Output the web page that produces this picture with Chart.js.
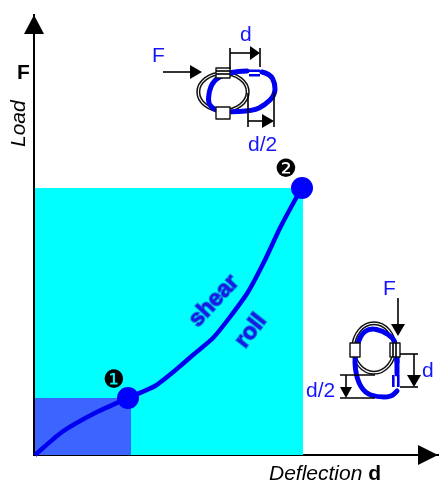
<!DOCTYPE html>
<html><head><meta charset="utf-8">
<style>html,body{margin:0;padding:0;background:#fff}canvas{display:block}</style>
<script src="https://cdn.jsdelivr.net/npm/chart.js@4"></script>
</head><body><canvas id="c" width="442" height="481"></canvas>
<script>
const curveDeflection=[1,28,61,94,121,144,159,179,196,214,231,246,261,268];
const curveLoad=[0,23,42,57,69,87,100,117,138,163,195,227,255,267];
const markerDeflection=[94,268];
const markerLoad=[57,267];
const markerLabels=['❶','❷'];
const zoneOuterDeflection=[1,269];
const zoneOuterLoad=[267,267];
const zoneInnerDeflection=[1,97];
const zoneInnerLoad=[57,57];

const toXY=(xs,ys)=>xs.map((x,i)=>({x,y:ys[i]}));
const BLUE='#0000f0',TXT='#1414ff';

function arrow(g,x1,y1,x2,y2,len,half,w){
  const a=Math.atan2(y2-y1,x2-x1);
  g.strokeStyle='#000';g.fillStyle='#000';g.lineWidth=w||1.5;
  g.beginPath();g.moveTo(x1,y1);g.lineTo(x2-Math.cos(a)*len*.8,y2-Math.sin(a)*len*.8);g.stroke();
  g.beginPath();g.moveTo(x2,y2);
  g.lineTo(x2-Math.cos(a)*len-Math.sin(a)*half,y2-Math.sin(a)*len+Math.cos(a)*half);
  g.lineTo(x2-Math.cos(a)*len+Math.sin(a)*half,y2-Math.sin(a)*len-Math.cos(a)*half);
  g.closePath();g.fill();
}
function seg(g,a,b,c,d){g.strokeStyle='#000';g.lineWidth=1.6;g.beginPath();g.moveTo(a,b);g.lineTo(c,d);g.stroke();}
function smooth(g,p,w){
  g.strokeStyle=BLUE;g.lineWidth=w;g.lineCap='round';g.lineJoin='round';
  g.beginPath();g.moveTo(p[0][0],p[0][1]);
  for(let i=1;i<p.length-1;i++){
    g.quadraticCurveTo(p[i][0],p[i][1],(p[i][0]+p[i+1][0])/2,(p[i][1]+p[i+1][1])/2);
  }
  const l=p[p.length-1];g.lineTo(l[0],l[1]);g.stroke();g.lineCap='butt';
}
function ring(g,cx,cy,rx,ry){
  g.strokeStyle='#111';g.lineWidth=1.5;
  g.beginPath();g.ellipse(cx,cy,rx,ry,0,0,7);g.stroke();
  g.beginPath();g.ellipse(cx,cy,rx-2.6,ry-2.6,0,0,7);g.stroke();
}
function box(g,x,y,w,h){g.fillStyle='#fff';g.strokeStyle='#111';g.lineWidth=1.4;g.fillRect(x,y,w,h);g.strokeRect(x,y,w,h);}
function txt(g,s,x,y,font,col){g.font=font;g.fillStyle=col;g.textAlign='left';g.textBaseline='alphabetic';g.fillText(s,x,y);}

const annotations={id:'annotations',afterDatasetsDraw(chart){
  const g=chart.ctx,{x:sx,y:sy}=chart.scales;
  g.save();
  const ax=sx.left,ay=sy.bottom;
  g.fillStyle='#000';
  g.beginPath();g.moveTo(ax,sy.top);g.lineTo(ax-10,sy.top+19);g.lineTo(ax+10,sy.top+19);g.closePath();g.fill();
  g.beginPath();g.moveTo(sx.right,ay);g.lineTo(sx.right-20,ay-10);g.lineTo(sx.right-20,ay+10);g.closePath();g.fill();
  const F='"Liberation Sans"';
  txt(g,'F',17,79,'bold 21px '+F,'#000');
  g.save();g.translate(25,147);g.rotate(-Math.PI/2);txt(g,'Load',0,0,'italic 21px '+F,'#000');g.restore();
  txt(g,'Deflection ',269,480,'italic 21px '+F,'#000');
  const w=g.measureText('Deflection ').width;
  txt(g,'d',269+w,480,'bold 21px '+F,'#000');
  g.textAlign='center';g.textBaseline='middle';g.fillStyle='#000';g.font='25px "DejaVu Sans"';
  g.fillText(markerLabels[0],sx.getPixelForValue(markerDeflection[0])-14,sy.getPixelForValue(markerLoad[0])-17);
  g.fillText(markerLabels[1],sx.getPixelForValue(markerDeflection[1])-16,sy.getPixelForValue(markerLoad[1])-18);
  for(const [s,x,y,a] of [['shear',214,301,-47],['roll',251,331,-52]]){
    g.save();g.translate(x,y);g.rotate(a*Math.PI/180);
    g.font='bold 23px '+F;g.textAlign='center';g.textBaseline='middle';
    g.fillStyle='#1a1ae0';g.strokeStyle='rgba(20,20,220,.55)';g.lineWidth=2;
    g.strokeText(s,0,0);g.fillText(s,0,0);g.restore();
  }
  ring(g,223,92,26,20);
  smooth(g,[[221,112],[208,108],[209,90],[215,79],[230,72],[247,71]],5);
  g.fillStyle=BLUE;g.fillRect(249,69.5,11,2.5);g.fillRect(249,74,11,2.5);
  smooth(g,[[262,72],[270,74],[275,83],[275,95],[265,105],[253,111],[225,112]],5);
  box(g,216,68,14,10);
  seg(g,216,71,230,71);seg(g,216,74,230,74);
  box(g,216,107,14,12);
  arrow(g,163,72,202,72,12,7,1.6);
  txt(g,'F',152,62,'21px '+F,TXT);
  seg(g,230,48,230,69);seg(g,260,48,260,67);
  arrow(g,230,53,260,53,10,7,1.6);
  txt(g,'d',240,41,'21px '+F,TXT);
  seg(g,248,93,248,127);seg(g,274,92,274,127);
  arrow(g,248,121,274,121,12,7,1.6);
  txt(g,'d/2',248,151,'21px '+F,TXT);
  ring(g,374,348,22,26);
  smooth(g,[[397,362],[396,345],[393,338],[383,331],[370,328],[360,335],[354,358],[357,380],[365,393],[377,397],[391,397],[397,391]],5);
  g.fillStyle=BLUE;g.fillRect(392,375,2.6,12);g.fillRect(397,375,2.6,12);
  smooth(g,[[397,357],[397,374]],5);
  box(g,350,343,10,14);box(g,390,343,10,14);
  seg(g,393,343,393,357);seg(g,396,343,396,357);
  arrow(g,398,298,398,336,12,7,1.6);
  txt(g,'F',383,295,'21px '+F,TXT);
  seg(g,400,354,418,354);seg(g,400,387,418,387);
  arrow(g,414,354,414,387,12,7,1.6);
  txt(g,'d',422,377,'21px '+F,TXT);
  seg(g,340,375,375,375);seg(g,340,398,375,398);
  arrow(g,346,375,346,398,11,6,1.6);
  txt(g,'d/2',306,397,'21px '+F,TXT);
  g.restore();
}};

new Chart(document.getElementById('c'),{
  type:'scatter',
  data:{datasets:[
    {label:'Markers',data:toXY(markerDeflection,markerLoad),pointRadius:11,pointBackgroundColor:'#0000ff',pointBorderWidth:0,showLine:false,order:1,clip:false},
    {label:'Load curve',data:toXY(curveDeflection,curveLoad),showLine:true,borderColor:BLUE,borderWidth:4.5,pointRadius:0,tension:0.2,order:2,clip:false},
    {label:'Inner zone',data:toXY(zoneInnerDeflection,zoneInnerLoad),showLine:true,borderWidth:0,borderColor:'transparent',pointRadius:0,fill:'origin',backgroundColor:'#3c64ff',order:3},
    {label:'Outer zone',data:toXY(zoneOuterDeflection,zoneOuterLoad),showLine:true,borderWidth:0,borderColor:'transparent',pointRadius:0,fill:'origin',backgroundColor:'#00ffff',order:4}
  ]},
  options:{
    responsive:false,animation:false,
    layout:{autoPadding:false,padding:{left:34,right:4,top:15,bottom:26}},
    plugins:{legend:{display:false},tooltip:{enabled:false}},
    scales:{
      x:{type:'linear',min:0,max:404,grid:{display:false,drawTicks:false},ticks:{display:false},border:{display:true,color:'#000',width:2}},
      y:{type:'linear',min:0,max:440,grid:{display:false,drawTicks:false},ticks:{display:false,padding:0},border:{display:true,color:'#000',width:2}}
    }
  },
  plugins:[annotations]
});
</script></body></html>
